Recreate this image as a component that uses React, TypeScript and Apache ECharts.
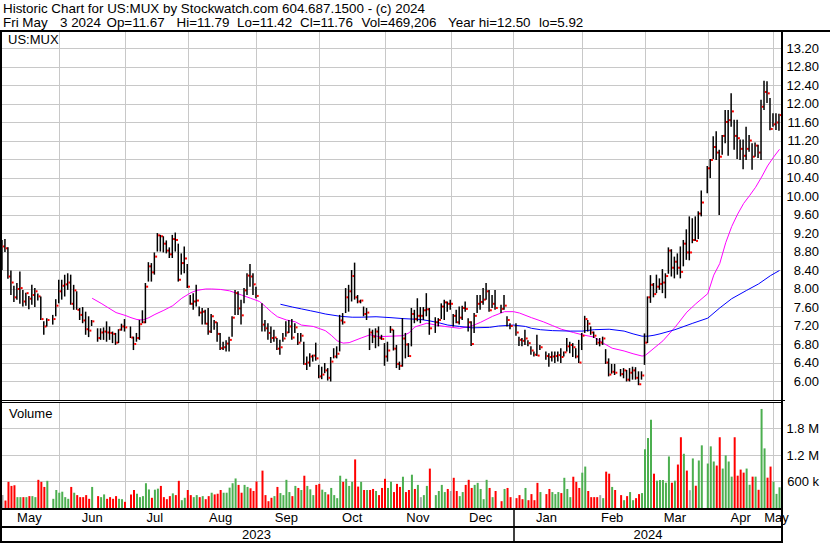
import React, { useEffect, useRef } from "react";
import * as echarts from "echarts";

// ---- calendar: every weekday from 2023-05-05 to 2024-05-03 (holidays leave empty slots)
const START_DATE = "2023-05-05";
const END_DATE = "2024-05-03";
const HOLIDAYS = ["2023-05-29", "2023-06-19", "2023-07-04", "2023-09-04", "2023-11-23", "2023-12-25", "2024-01-01", "2024-01-15", "2024-02-19", "2024-03-29"];
const MONTH_NAMES = ["Jan", "Feb", "Mar", "Apr", "May", "Jun", "Jul", "Aug", "Sep", "Oct", "Nov", "Dec"];

// ---- daily values (one per weekday slot, null on holidays)
const CLOSE = [
  8.92, 8.88, 8.27, 8.14, 7.82, 8.0, 8.02, 7.73, 7.91, 7.79,
  7.87, 7.95, 7.84, 7.35, 7.19, 7.33, null, 7.35, 7.64, 7.95,
  8.07, 8.1, 8.14, 7.68, 7.97, 7.55, 7.44, 7.32, 7.13, 7.1,
  7.3, null, 6.94, 7.06, 7.08, 7.06, 7.05, 7.03, 6.84, 7.12,
  7.19, 7.17, null, 6.95, 6.81, 6.94, 7.24, 7.28, 8.05, 8.49,
  8.36, 8.7, 9.16, 9.14, 8.98, 8.83, 8.75, 9.08, 9.06, 8.2,
  8.56, 8.66, 8.05, 7.68, 7.73, 7.75, 7.49, 7.51, 7.25, 7.08,
  7.41, 7.28, 7.03, 6.72, 6.74, 6.82, 6.9, 7.38, 7.91, 7.58,
  7.43, 7.97, 8.29, 8.27, 8.1, 7.85, null, 7.23, 7.15, 7.05,
  6.94, 6.95, 6.71, 6.74, 6.93, 7.06, 7.19, 6.95, 7.17, 6.84,
  6.99, 6.38, 6.41, 6.54, 6.56, 6.5, 6.11, 6.15, 6.24, 6.08,
  6.43, 6.54, 6.6, 7.32, 7.28, 7.82, 7.95, 8.28, 7.82, 7.73,
  7.75, 7.46, 7.49, 7.06, 6.97, 7.08, 6.94, 6.92, 6.54, 6.67,
  7.12, 6.71, 6.38, 6.34, 6.93, 6.8, 6.55, 7.46, 7.35, 7.42,
  7.42, 7.54, 7.56, 7.15, null, 7.28, 7.33, 7.62, 7.71, 7.68,
  7.68, 7.42, 7.28, 7.38, 7.59, 7.57, 7.28, 6.81, 7.42, 7.68,
  7.72, 7.77, 7.95, 7.54, 7.68, 7.59, null, 7.57, 7.64, 7.33,
  7.2, null, 7.06, 6.9, 6.88, 6.93, 6.83, 6.67, 6.58, 6.56,
  6.74, null, 6.55, 6.53, 6.54, 6.55, 6.57, 6.53, 6.63, 6.76,
  6.79, 6.74, 6.54, 6.41, 6.99, 7.35, 7.25, 7.06, 6.99, 6.84,
  6.84, 6.93, 6.41, 6.15, 6.21, 6.19, null, 6.16, 6.24, 6.04,
  6.19, 6.24, 6.08, 5.94, 6.13, 6.84, 7.82, 8.09, 7.89, 8.05,
  8.11, 8.14, 8.28, 8.83, 8.46, 8.59, 8.46, 8.37, 8.98, 8.79,
  8.79, 9.06, 9.04, 9.63, 9.87, null, 10.61, 10.79, 11.07, 10.95,
  10.86, 11.31, 11.61, 11.65, 11.84, 11.31, 11.26, 11.03, 10.88, 11.03,
  11.21, 10.86, 11.1, 10.95, 11.94, 12.26, 12.23, 11.46, 11.56, 11.6,
  11.76,
];

const HIGH = [
  9.06, 9.08, 8.9, 8.4, 8.07, 8.13, 8.38, 7.98, 7.92, 7.85,
  8.09, 8.02, 7.9, 7.84, 7.3, 7.37, null, 7.44, 7.78, 8.2,
  8.2, 8.31, 8.34, 8.31, 8.09, 7.95, 7.59, 7.61, 7.51, 7.41,
  7.33, null, 7.15, 7.15, 7.17, 7.3, 7.19, 7.08, 7.05, 7.13,
  7.25, 7.35, null, 7.19, 6.97, 7.05, 7.33, 7.54, 8.13, 8.58,
  8.56, 8.79, 9.21, 9.17, 9.14, 9.05, 8.9, 9.17, 9.22, 8.98,
  8.77, 8.92, 8.54, 7.87, 7.91, 8.09, 7.62, 7.59, 7.55, 7.59,
  7.46, 7.33, 7.28, 7.05, 6.86, 6.89, 6.97, 7.41, 7.98, 7.95,
  7.77, 8.02, 8.34, 8.54, 8.34, 8.05, null, 7.69, 7.33, 7.26,
  7.19, 7.12, 6.94, 6.9, 7.05, 7.3, 7.33, 7.35, 7.26, 7.05,
  7.05, 6.86, 6.54, 6.61, 6.58, 6.84, 6.36, 6.32, 6.4, 6.29,
  6.53, 6.72, 6.76, 7.44, 7.48, 8.02, 8.09, 8.41, 8.57, 7.87,
  7.77, 7.62, 7.59, 7.15, 7.12, 7.15, 7.19, 7.01, 6.83, 6.86,
  7.2, 7.12, 6.79, 6.43, 7.37, 7.05, 6.83, 7.59, 7.55, 7.8,
  7.61, 7.61, 7.91, 7.59, null, 7.39, 7.37, 7.69, 7.77, 7.73,
  7.77, 7.46, 7.55, 7.62, 7.64, 7.73, 7.37, 7.3, 7.48, 7.87,
  7.87, 8.02, 8.13, 7.98, 7.87, 7.98, null, 7.66, 7.87, 7.41,
  7.26, null, 7.26, 6.97, 6.94, 7.12, 6.89, 6.76, 6.65, 7.01,
  6.79, null, 6.65, 6.61, 6.65, 6.65, 6.65, 6.72, 6.65, 6.94,
  6.86, 6.83, 6.72, 6.9, 7.05, 7.42, 7.33, 7.19, 7.08, 6.94,
  6.94, 6.97, 6.7, 6.5, 6.38, 6.38, null, 6.27, 6.29, 6.25,
  6.29, 6.32, 6.31, 6.22, 6.22, 7.04, 7.84, 8.3, 8.13, 8.31,
  8.23, 8.43, 8.34, 8.9, 8.86, 8.7, 8.77, 8.92, 9.06, 9.29,
  9.57, 9.53, 9.57, 9.68, 10.13, null, 10.66, 10.81, 11.3, 11.41,
  11.01, 11.33, 11.87, 11.87, 12.23, 11.66, 11.66, 11.23, 11.23, 11.51,
  11.33, 11.15, 11.17, 11.12, 12.09, 12.5, 12.49, 12.13, 11.8, 11.8,
  11.79,
];

const LOW = [
  8.41, 8.8, 8.22, 7.87, 7.72, 7.77, 7.68, 7.62, 7.64, 7.56,
  7.66, 7.61, 7.75, 7.33, 7.01, 7.19, null, 7.23, 7.41, 7.69,
  7.77, 7.84, 7.98, 7.66, 7.55, 7.55, 7.33, 7.26, 7.01, 6.96,
  7.2, null, 6.86, 6.9, 6.9, 6.86, 6.9, 6.83, 6.79, 6.83,
  7.1, 7.08, null, 6.94, 6.68, 6.86, 6.9, 7.26, 7.26, 8.16,
  8.16, 8.31, 8.81, 8.81, 8.79, 8.77, 8.67, 8.67, 8.81, 8.16,
  8.31, 8.34, 8.02, 7.66, 7.55, 7.62, 7.41, 7.23, 7.23, 7.01,
  7.05, 7.12, 6.86, 6.68, 6.68, 6.65, 6.65, 6.97, 7.44, 7.44,
  7.23, 7.69, 7.87, 8.05, 7.87, 7.8, null, 7.08, 7.08, 6.9,
  6.83, 6.86, 6.68, 6.58, 6.86, 6.97, 7.05, 6.9, 7.05, 6.79,
  6.86, 6.36, 6.25, 6.32, 6.43, 6.45, 6.07, 6.05, 6.18, 6.02,
  6.0, 6.5, 6.5, 6.65, 7.23, 7.48, 7.51, 7.73, 7.77, 7.69,
  7.69, 7.41, 7.33, 6.68, 6.83, 6.72, 6.76, 6.9, 6.34, 6.43,
  7.05, 6.67, 6.29, 6.25, 6.32, 6.5, 6.53, 6.76, 7.26, 7.3,
  7.26, 7.33, 7.41, 7.01, null, 7.05, 7.19, 7.35, 7.33, 7.51,
  7.55, 7.19, 7.26, 7.23, 7.33, 7.51, 7.08, 6.77, 7.05, 7.48,
  7.55, 7.66, 7.77, 7.51, 7.59, 7.55, null, 7.48, 7.55, 7.19,
  7.13, null, 6.99, 6.77, 6.76, 6.79, 6.76, 6.58, 6.54, 6.55,
  6.68, null, 6.47, 6.32, 6.43, 6.4, 6.43, 6.4, 6.54, 6.65,
  6.61, 6.53, 6.5, 6.4, 6.68, 7.05, 7.08, 7.01, 6.94, 6.79,
  6.76, 6.79, 6.38, 6.11, 6.17, 6.14, null, 6.11, 6.07, 6.0,
  6.0, 6.04, 6.04, 5.92, 6.04, 6.36, 6.83, 7.7, 7.82, 7.91,
  7.98, 7.91, 7.8, 8.33, 8.27, 8.23, 8.31, 8.23, 8.49, 8.63,
  8.62, 8.99, 9.04, 9.08, 9.57, null, 10.07, 10.4, 10.81, 10.79,
  9.6, 10.9, 11.15, 10.88, 11.51, 11.01, 10.81, 10.79, 10.59, 10.79,
  10.97, 10.58, 10.86, 10.83, 10.79, 11.87, 12.02, 11.43, 11.51, 11.44,
  11.42,
];

// volume in thousands of shares
const VOLUME = [
  292, 169, 592, 500, 515, 246, 246, 246, 246, 269,
  269, 246, 638, 592, 477, 615, null, 208, 408, 346,
  369, 246, 208, 477, 346, 292, 246, 246, 292, 208,
  477, null, 269, 246, 308, 208, 246, 208, 269, 208,
  200, 140, null, 308, 408, 323, 246, 269, 561, 420,
  231, 415, 438, 500, 246, 200, 269, 331, 292, 615,
  177, 231, 408, 292, 246, 292, 246, 269, 200, 269,
  346, 308, 323, 408, 346, 346, 461, 561, 669, 523,
  346, 523, 477, 446, 385, 600, null, 846, 292, 154,
  231, 269, 477, 338, 292, 638, 361, 269, 500, 454,
  408, 731, 500, 423, 292, 523, 546, 415, 361, 308,
  454, 292, 223, 731, 592, 661, 500, 592, 1100, 485,
  592, 408, 408, 408, 431, 385, 292, 454, 661, 454,
  592, 361, 546, 477, 708, 361, 408, 754, 431, 523,
  246, 292, 500, 892, null, 292, 385, 523, 361, 431,
  385, 684, 385, 269, 361, 523, 638, 454, 523, 569,
  431, 200, 638, 454, 246, 385, null, 154, 431, 454,
  246, null, 223, 292, 200, 454, 177, 315, 177, 569,
  361, null, 315, 431, 361, 315, 361, 338, 684, 431,
  246, 708, 592, 454, 800, 938, 385, 246, 246, 246,
  292, 223, 823, 777, 477, 408, null, 292, 177, 269,
  361, 177, 223, 315, 338, 1330, 1584, 2000, 777, 618,
  633, 633, 572, 1167, 572, 618, 984, 1602, 1228, 847,
  404, 1122, 504, 1076, 1419, null, 1007, 1396, 1053, 961,
  1602, 893, 1190, 1053, 710, 1602, 732, 870, 801, 893,
  526, 710, 710, 412, 2243, 1350, 687, 938, 595, 320,
  469,
];

// moving averages: [slot, value]
const MA_SHORT = [
  [30, 7.8], [33, 7.69], [35, 7.61], [38, 7.49], [41, 7.43], [43, 7.38], [45, 7.34], [47, 7.33], [49, 7.38], [51, 7.45],
  [54, 7.54], [57, 7.64], [60, 7.8], [63, 7.92], [65, 7.97], [68, 8.0], [70, 8.0], [73, 7.99], [76, 7.96], [80, 7.87],
  [83, 7.8], [86, 7.73], [88, 7.62], [90, 7.5], [92, 7.4], [95, 7.33], [98, 7.29], [100, 7.22], [104, 7.19], [108, 7.1],
  [110, 7.0], [112, 6.88], [114, 6.83], [116, 6.84], [120, 6.94], [123, 7.01], [126, 6.97], [130, 6.98], [134, 6.99], [136, 7.05],
  [138, 7.18], [142, 7.26], [145, 7.22], [148, 7.19], [153, 7.15], [157, 7.2], [160, 7.28], [164, 7.41], [168, 7.51], [171, 7.51],
  [173, 7.48], [177, 7.38], [181, 7.29], [184, 7.21], [187, 7.13], [191, 7.06], [194, 7.01], [198, 6.96], [201, 6.83], [204, 6.72],
  [208, 6.66], [211, 6.6], [214, 6.55], [215, 6.56], [218, 6.72], [221, 6.88], [225, 7.17], [229, 7.5], [232, 7.68], [236, 7.9],
  [238, 8.3], [240, 8.55], [242, 9.0], [244, 9.35], [246, 9.62], [248, 9.85], [250, 10.02], [252, 10.2], [254, 10.42], [256, 10.66],
  [258, 10.85], [260, 11.02],
];
const MA_LONG = [
  [93, 7.67], [97, 7.61], [100, 7.57], [103, 7.53], [106, 7.49], [108, 7.46], [113, 7.41], [117, 7.39], [120, 7.39], [125, 7.4],
  [130, 7.38], [134, 7.36], [140, 7.34], [143, 7.31], [146, 7.27], [149, 7.22], [153, 7.19], [157, 7.16], [163, 7.17], [166, 7.2],
  [171, 7.22], [175, 7.19], [177, 7.15], [180, 7.12], [184, 7.1], [190, 7.09], [194, 7.09], [198, 7.12], [203, 7.13], [208, 7.09],
  [211, 7.03], [214, 6.98], [216, 6.98], [218, 7.0], [220, 7.03], [225, 7.12], [231, 7.26], [236, 7.37], [240, 7.59], [244, 7.79],
  [249, 7.97], [253, 8.11], [257, 8.29], [260, 8.4],
];

const PRICE_TICKS = { min: 5.6, max: 13.578, step: 0.4 };
const VOLUME_TICKS = { min: 0, max: 2400, step: 600 };

const HEADER_1 = "Historic Chart for US:MUX by Stockwatch.com 604.687.1500 - (c) 2024";
// second header line: [text, left x]
const HEADER_2 = [
  ["Fri May", 3],
  ["3 2024", 60],
  ["Op=11.67", 106.5],
  ["Hi=11.79", 176.5],
  ["Lo=11.42", 237],
  ["Cl=11.76", 300],
  ["Vol=469,206", 361.5],
  ["Year hi=12.50", 448],
  ["lo=5.92", 539],
];
const SYMBOL = "US:MUX";

// ---- helpers
function buildDates(): string[] {
  const out: string[] = [];
  const d = new Date(START_DATE + "T00:00:00Z");
  const end = new Date(END_DATE + "T00:00:00Z").getTime();
  while (d.getTime() <= end) {
    const wd = d.getUTCDay();
    if (wd !== 0 && wd !== 6) out.push(d.toISOString().slice(0, 10));
    d.setUTCDate(d.getUTCDate() + 1);
  }
  return out;
}

const FONT = '"Liberation Sans", Arial, Helvetica, sans-serif';
const GRID_COLOR = "#c8c8c8";
const UP = "#4caf50";
const DOWN = "#ff0000";
const FLAT = "#a8a8a8";

export default function App() {
  const ref = useRef<HTMLDivElement>(null);

  useEffect(() => {
    if (!ref.current) return;
    const chart = echarts.init(ref.current, undefined, { renderer: "svg" });
    const DATES = buildDates();
    const n = DATES.length;

    const monthStarts: number[] = [];
    DATES.forEach((d, i) => {
      if (i === 0 || d.slice(0, 7) !== DATES[i - 1].slice(0, 7)) monthStarts.push(i);
    });
    const monthStartSet = new Set(monthStarts.filter((i) => i > 0));
    const monthMid = new Map<number, string>();
    monthStarts.forEach((s, k) => {
      const e = k + 1 < monthStarts.length ? monthStarts[k + 1] : n;
      const mid = Math.floor((s + e) / 2);
      monthMid.set(mid, MONTH_NAMES[parseInt(DATES[s].slice(5, 7), 10) - 1]);
    });
    const yearStartIdx = DATES.findIndex((d) => d.startsWith("2024"));
    const yearMid = new Map<number, string>();
    yearMid.set(Math.floor(yearStartIdx / 2), "2023");
    yearMid.set(Math.floor((yearStartIdx + n) / 2), "2024");

    const ohlc: any[] = [];
    for (let i = 0; i < n; i++) {
      if (CLOSE[i] != null) ohlc.push([i, HIGH[i], LOW[i], CLOSE[i]]);
    }

    let prev: number | null = null;
    const volData = VOLUME.map((v, i) => {
      if (v == null || CLOSE[i] == null) return "-";
      const c = CLOSE[i] as number;
      const col = prev == null || c === prev ? FLAT : c > prev ? UP : DOWN;
      prev = c;
      return { value: v, itemStyle: { color: col } };
    });

    const maSeries = (pts: number[][]) => {
      const arr: (number | null)[] = new Array(n).fill(null);
      pts.forEach(([i, v]) => (arr[i] = v));
      return arr;
    };

    const blackRect = (x: number, y: number, w: number, h: number) => ({
      type: "rect",
      silent: true,
      z: 100,
      shape: { x, y, width: w, height: h },
      style: { fill: "#000" },
    });

    const splitLine = {
      show: true,
      interval: (i: number) => monthStartSet.has(i),
      alignWithLabel: true,
      lineStyle: { color: GRID_COLOR, width: 1 },
    };

    const headerTexts = HEADER_2.map(([t, x]) => ({
      type: "text",
      x: x as number,
      y: 22,
      silent: true,
      style: { text: t as string, font: `13.4px ${FONT}`, fill: "#000", textVerticalAlign: "middle" },
    }));

    const option: any = {
      animation: false,
      backgroundColor: "#ffffff",
      grid: [
        { left: 1, top: 31, width: 780, height: 369 },
        { left: 1, top: 402, width: 780, height: 106 },
      ],
      xAxis: [
        {
          type: "category",
          gridIndex: 0,
          data: DATES,
          boundaryGap: true,
          axisLine: { show: false },
          axisTick: { show: false },
          axisLabel: { show: false },
          splitLine,
        },
        {
          type: "category",
          gridIndex: 1,
          data: DATES,
          boundaryGap: true,
          axisLine: { show: false },
          axisTick: {
            show: true,
            interval: (i: number) => i === yearStartIdx,
            alignWithLabel: true,
            length: 33,
            lineStyle: { color: "#000", width: 1.5 },
          },
          axisLabel: {
            show: true,
            interval: (i: number) => monthMid.has(i),
            formatter: (_v: string, i: number) => monthMid.get(i) || "",
            margin: 3,
            color: "#000",
            fontSize: 13,
            fontFamily: FONT,
          },
          splitLine,
        },
        {
          type: "category",
          gridIndex: 1,
          data: DATES,
          position: "bottom",
          offset: 17,
          boundaryGap: true,
          axisLine: { show: false },
          axisTick: { show: false },
          axisLabel: {
            show: true,
            interval: (i: number) => yearMid.has(i),
            formatter: (_v: string, i: number) => yearMid.get(i) || "",
            margin: 3,
            color: "#000",
            fontSize: 13,
            fontFamily: FONT,
          },
          splitLine: { show: false },
        },
      ],
      yAxis: [
        {
          type: "value",
          gridIndex: 0,
          position: "right",
          min: PRICE_TICKS.min,
          max: PRICE_TICKS.max,
          interval: PRICE_TICKS.step,
          axisLine: { show: false },
          axisTick: { show: false },
          axisLabel: {
            formatter: (v: number) => (v < 5.9 || v > 13.3 ? "" : v.toFixed(2)),
            align: "right",
            margin: 38,
            color: "#000",
            fontSize: 13,
            fontFamily: FONT,
          },
          splitLine: { show: true, lineStyle: { color: GRID_COLOR, width: 1 } },
        },
        {
          type: "value",
          gridIndex: 1,
          position: "right",
          min: VOLUME_TICKS.min,
          max: VOLUME_TICKS.max,
          interval: VOLUME_TICKS.step,
          axisLine: { show: false },
          axisTick: { show: false },
          axisLabel: {
            formatter: (v: number) =>
              v <= 0 || v >= 2400 ? "" : v < 1000 ? `${v} k` : `${(v / 1000).toFixed(1)} M`,
            align: "right",
            margin: 38,
            color: "#000",
            fontSize: 13,
            fontFamily: FONT,
          },
          splitLine: { show: true, lineStyle: { color: GRID_COLOR, width: 1 } },
        },
      ],
      series: [
        {
          type: "line",
          xAxisIndex: 0,
          yAxisIndex: 0,
          data: maSeries(MA_SHORT),
          connectNulls: true,
          showSymbol: false,
          symbol: "none",
          lineStyle: { color: "#ff00ff", width: 1 },
          itemStyle: { color: "#ff00ff" },
          z: 2,
        },
        {
          type: "line",
          xAxisIndex: 0,
          yAxisIndex: 0,
          data: maSeries(MA_LONG),
          connectNulls: true,
          showSymbol: false,
          symbol: "none",
          lineStyle: { color: "#0000ff", width: 1 },
          itemStyle: { color: "#0000ff" },
          z: 2,
        },
        {
          type: "custom",
          xAxisIndex: 0,
          yAxisIndex: 0,
          data: ohlc,
          encode: { x: 0, y: [1, 2, 3] },
          z: 3,
          renderItem: (_p: any, api: any) => {
            const i = api.value(0);
            const top = api.coord([i, api.value(1)]);
            const bot = api.coord([i, api.value(2)]);
            const cl = api.coord([i, api.value(3)]);
            const cx = top[0];
            return {
              type: "group",
              children: [
                {
                  type: "rect",
                  shape: { x: cx - 1.3, y: top[1], width: 1.5, height: Math.max(1, bot[1] - top[1]) },
                  style: { fill: "#000" },
                },
                {
                  type: "rect",
                  shape: { x: cx + 0.2, y: cl[1] - 1, width: 2, height: 2 },
                  style: { fill: "#ff0000" },
                },
              ],
            };
          },
        },
        {
          type: "bar",
          xAxisIndex: 1,
          yAxisIndex: 1,
          data: volData,
          barWidth: 2,
          z: 3,
        },
      ],
      graphic: [
        { type: "text", x: 3, y: 8.5, silent: true, style: { text: HEADER_1, font: `13.4px ${FONT}`, fill: "#000", textVerticalAlign: "middle" } },
        ...headerTexts,
        { type: "text", x: 8, y: 39.5, silent: true, z: 100, style: { text: SYMBOL, font: `13px ${FONT}`, fill: "#000", textVerticalAlign: "middle" } },
        { type: "text", x: 9, y: 413.5, silent: true, z: 100, style: { text: "Volume", font: `13px ${FONT}`, fill: "#000", textVerticalAlign: "middle" } },
        blackRect(0, 30, 830, 2),
        blackRect(0, 30, 2, 513),
        blackRect(781, 30, 2, 513),
        blackRect(0, 400, 785, 1),
        blackRect(0, 402, 783, 1),
        blackRect(0, 508, 783, 2),
        blackRect(0, 526, 783, 2),
        blackRect(0, 541, 783, 2),
      ],
    };

    chart.setOption(option);
    return () => chart.dispose();
  }, []);

  return (
    <div
      ref={ref}
      style={{ position: "fixed", left: 0, top: 0, width: 830, height: 543, background: "#fff" }}
    />
  );
}
